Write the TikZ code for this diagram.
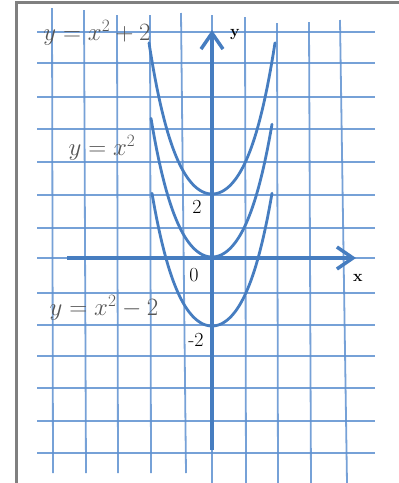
\documentclass[tikz,border=0pt]{standalone}
\usetikzlibrary{arrows.meta}
\definecolor{gridblue}{RGB}{95,145,208}
\definecolor{axisblue}{RGB}{70,125,192}
\definecolor{eqgray}{RGB}{85,85,85}
\definecolor{framegray}{RGB}{128,128,128}
\begin{document}
\begin{tikzpicture}[x=1pt,y=-1pt,
  gridline/.style={gridblue, line width=1.8pt, opacity=0.85},
  axisline/.style={axisblue, line width=3.5pt},
  curve/.style={axisblue, line width=2.8pt, line cap=round},
  eqlabel/.style={text=eqgray, font=\fontsize{26}{30}\selectfont, inner sep=0pt},
  ticklabel/.style={font=\fontsize{20}{24}\selectfont, inner sep=0pt},
  axislabel/.style={font=\bfseries\fontsize{16}{19}\selectfont, inner sep=0pt}]
\useasboundingbox (0,0) rectangle (399,483);
\fill[white] (0,0) rectangle (399,483);
% frame
\draw[framegray, line width=3pt] (16,483) -- (16,2) -- (399,2);
% horizontal grid
\foreach \y in {32,63,97,129,162,195,228,258,293,325,356,388,421,453}
  \draw[gridline] (37,\y) -- (375,\y);
% vertical grid
\foreach \xa/\ya/\xb/\yb in {52/8/53/473, 84/10/86/473, 117/15/118/473, 150/15/151/473, 181/13/186/473,
  212/15/212/483, 245/17/246/483, 277/23/278/483, 309/22/311/483, 340/20/347/483}
  \draw[gridline] (\xa,\ya) -- (\xb,\yb);
% axes
\coordinate (xs) at (67,258);
\coordinate (xe) at (356,258);
\coordinate (ys) at (212,450);
\coordinate (ye) at (212,30);
\draw[axisline, -{Straight Barb[length=16pt,width=22pt]}] (xs) -- (xe);
\draw[axisline, -{Straight Barb[length=16pt,width=22pt]}] (ys) -- (ye);
% parabolas
\draw[curve] plot[domain=-63:63, samples=81] ({212+\x},{194-(0.025*\x*\x+0.033*(\x*\x/100)^2)});
\draw[curve] plot[domain=-61:60, samples=81] ({212+\x},{257-(0.025*\x*\x+0.033*(\x*\x/100)^2)});
\draw[curve] plot[domain=-60:60, samples=81] ({212+\x},{326-(0.025*\x*\x+0.033*(\x*\x/100)^2)});
% labels
\node[eqlabel] (eqtop) at (97,33) {$y = x^2 + 2$};
\node[eqlabel] (eqmid) at (102,148) {$y = x^2$};
\node[eqlabel] (eqbot) at (104,308) {$y = x^2 - 2$};
\node[ticklabel] (t2) at (197,207) {2};
\node[ticklabel] (t0) at (194,275) {0};
\node[ticklabel] (tm2) at (196,340) {-2};
\node[axislabel] (ly) at (235,35) {y};
\node[axislabel] (lx) at (358,278) {x};
\end{tikzpicture}
\end{document}
